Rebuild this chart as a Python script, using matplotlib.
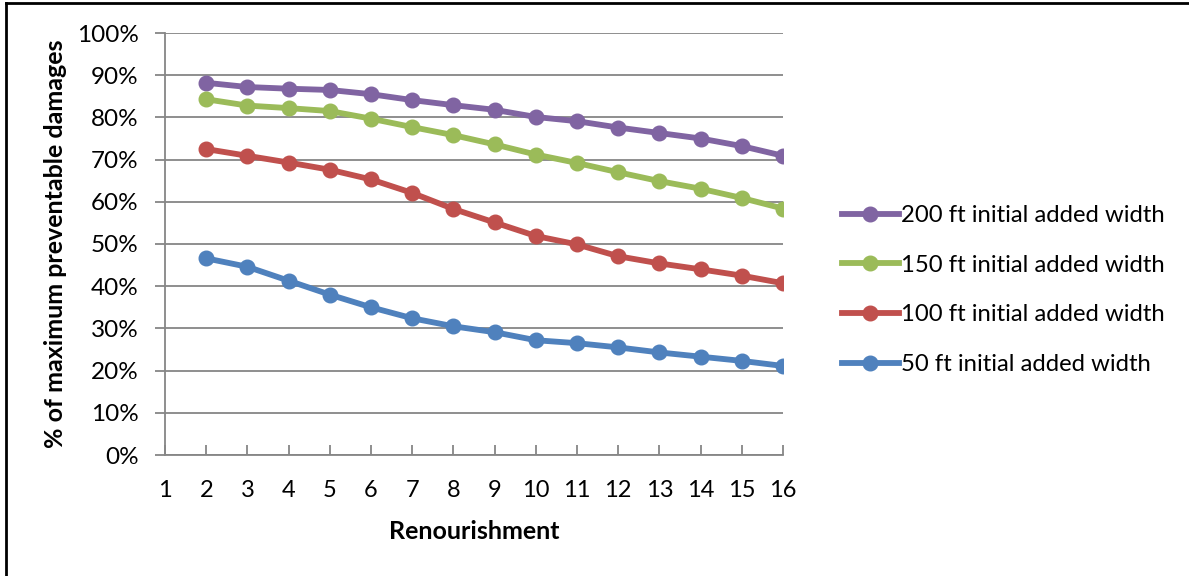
import matplotlib
matplotlib.use("Agg")
import matplotlib.pyplot as plt
from matplotlib.ticker import PercentFormatter
from matplotlib.lines import Line2D

# Renourishment cycle and share of maximum preventable damages (%)
renourishment = list(range(2, 17))
width_200 = [88.2, 87.2, 86.8, 86.5, 85.5, 84.1, 82.9, 81.8, 80.1, 79.1, 77.6, 76.3, 75.0, 73.2, 70.9]
width_150 = [84.3, 82.8, 82.2, 81.5, 79.7, 77.7, 75.8, 73.6, 71.2, 69.2, 67.0, 64.9, 63.1, 60.9, 58.4]
width_100 = [72.5, 70.9, 69.3, 67.6, 65.3, 62.1, 58.3, 55.1, 51.9, 49.9, 47.1, 45.4, 44.0, 42.5, 40.7]
width_50 = [46.6, 44.6, 41.3, 38.0, 35.0, 32.4, 30.5, 29.1, 27.2, 26.5, 25.5, 24.3, 23.3, 22.3, 21.1]

series = [
    ("200 ft initial added width", width_200, "#8064A2"),
    ("150 ft initial added width", width_150, "#9BBB59"),
    ("100 ft initial added width", width_100, "#C0504D"),
    ("50 ft initial added width", width_50, "#4F81BD"),
]
x_ticks = list(range(1, 17))
y_ticks = list(range(0, 101, 10))

plt.rcParams["font.family"] = ["Lato", "DejaVu Sans"]

fig = plt.figure(figsize=(11.89, 5.76), dpi=100)
ax = fig.add_axes([165 / 1189, 121 / 576, 618 / 1189, 422 / 576])

grid_color = "#868686"
LW = 4.2
MS = 10.5
for label, values, color in series:
    ax.plot(renourishment, values, color=color, lw=LW, marker="o",
            markersize=MS, solid_capstyle="round", label=label, zorder=3)

ax.set_xlim(1, 16)
ax.set_ylim(0, 100)
ax.set_xticks(x_ticks)
ax.set_yticks(y_ticks)
ax.yaxis.set_major_formatter(PercentFormatter(decimals=0))
ax.grid(axis="y", color=grid_color, lw=1.3, zorder=1)
ax.set_axisbelow(True)

for side in ("top", "right"):
    ax.spines[side].set_visible(False)
for side in ("left", "bottom"):
    ax.spines[side].set_color(grid_color)
    ax.spines[side].set_linewidth(1.3)

ax.tick_params(axis="x", direction="in", length=7, width=1.3, color=grid_color,
               labelsize=17, pad=18, labelcolor="black")
ax.tick_params(axis="y", direction="out", length=7, width=1.3, color=grid_color,
               labelsize=17.5, pad=12, labelcolor="black")

ax.set_xlabel("Renourishment", fontsize=18, fontweight="bold", labelpad=14)
ax.set_ylabel("% of maximum preventable damages", fontsize=18, fontweight="bold",
              labelpad=8)
ax.yaxis.set_label_coords(-98 / 618, 0.5)

handles = [Line2D([0], [0], color=c, lw=LW, marker="o", markersize=MS)
           for _, _, c in series]
fig.legend(handles, [s[0] for s in series], loc="center left",
           bbox_to_anchor=(832 / 1189, 286 / 576), frameon=False,
           fontsize=17.2, handlelength=2.4, handletextpad=0.1,
           labelspacing=1.2, borderaxespad=0)

# Chart frame edges
fig.add_artist(Line2D([6 / 1189, 6 / 1189], [0, 1 - 3 / 576], color="black", lw=2,
                      transform=fig.transFigure))
fig.add_artist(Line2D([6 / 1189, 1], [1 - 3 / 576, 1 - 3 / 576], color="black", lw=2,
                      transform=fig.transFigure))

fig.savefig("out.png", dpi=100)
